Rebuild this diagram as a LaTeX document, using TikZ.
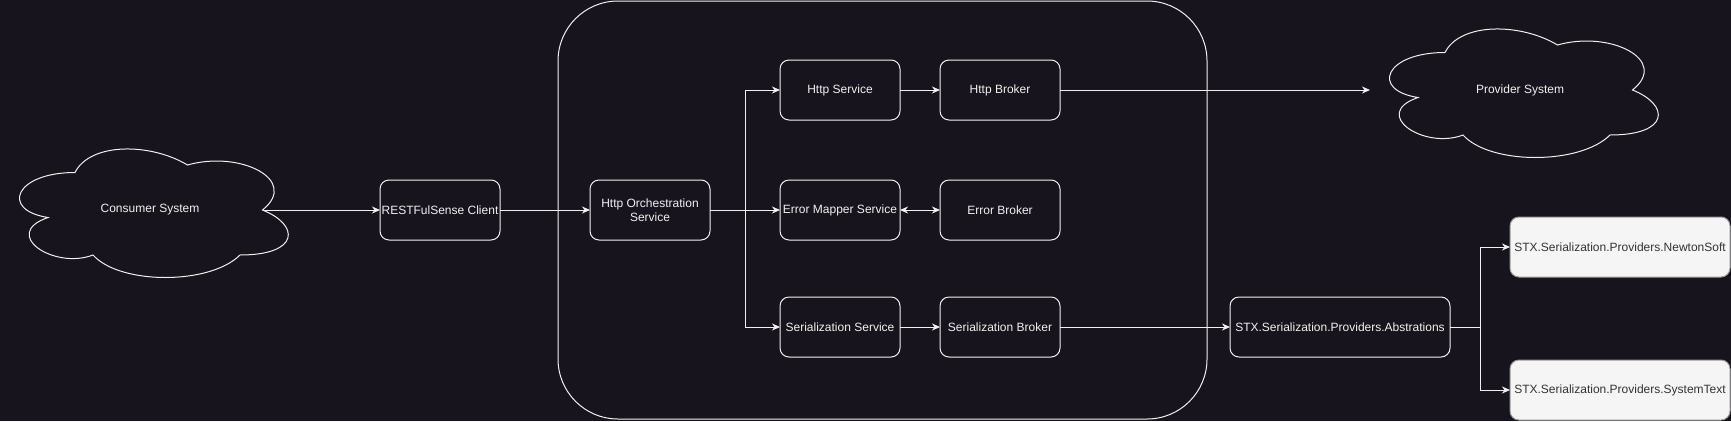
\documentclass[tikz,border=0pt]{standalone}
\usepackage{fontspec}
\setmainfont{Liberation Sans}
\usetikzlibrary{arrows.meta}
\definecolor{bgc}{HTML}{18141D}
\definecolor{fgc}{HTML}{F0F0F0}
\definecolor{lightfill}{HTML}{F5F5F5}
\definecolor{lightstroke}{HTML}{9A9A9A}
\definecolor{darktext}{HTML}{333333}
\tikzset{
  box/.style={draw=fgc, line width=1pt, rounded corners=9pt, minimum width=120pt, minimum height=60pt,
    inner sep=0pt, outer sep=0pt, text=fgc, align=center, font=\fontsize{12}{14}\selectfont},
  lightbox/.style={draw=lightstroke, fill=lightfill, line width=1pt, rounded corners=9pt, minimum width=220pt,
    minimum height=60pt, inner sep=0pt, outer sep=0pt, text=darktext, font=\fontsize{12}{14}\selectfont},
  lbl/.style={text=fgc, font=\fontsize{12}{14}\selectfont},
  conn/.style={draw=fgc, line width=1pt},
  arr/.style={conn, -{Stealth[length=8pt,width=7pt,inset=2.5pt]}},
  darr/.style={conn, {Stealth[length=8pt,width=7pt,inset=2.5pt]}-{Stealth[length=8pt,width=7pt,inset=2.5pt]}},
  cloudline/.style={draw=fgc, line width=1pt}
}
\newcommand{\mycloudpath}{(0.25,0.25) .. controls (0.05,0.25) and (0,0.5) .. (0.16,0.55)
  .. controls (0,0.66) and (0.18,0.9) .. (0.31,0.8)
  .. controls (0.4,1) and (0.7,1) .. (0.8,0.8)
  .. controls (1,0.8) and (1,0.6) .. (0.875,0.5)
  .. controls (1,0.3) and (0.8,0.1) .. (0.625,0.2)
  .. controls (0.5,0.05) and (0.3,0.05) .. (0.25,0.25) -- cycle}
\begin{document}
\begin{tikzpicture}[x=1pt,y=-1pt]
\fill[bgc] (0,0) rectangle (1731,421);
\useasboundingbox (0,0) rectangle (1731,421);

% container
\node[draw=fgc, line width=1pt, rounded corners=60pt, minimum width=649pt, minimum height=418pt, inner sep=0pt, outer sep=0pt] (container) at (882.5,210) {};

% clouds
\begin{scope}[shift={(0pt,-135pt)}, x=300pt, y=-150pt]
  \path[cloudline] \mycloudpath;
\end{scope}
\begin{scope}[shift={(1370pt,-15pt)}, x=300pt, y=-150pt]
  \path[cloudline] \mycloudpath;
\end{scope}
\node[lbl] (consumer) at (150,210) {Consumer System};
\node[lbl] (provider) at (1520,90) {Provider System};
\coordinate (cnotch) at (262.5,210);
\coordinate (pleft) at (1370,90);

% boxes
\node[box] (client) at (440,210) {RESTFulSense Client};
\node[box] (orch) at (650,210) {Http Orchestration\\Service};
\node[box] (httpsvc) at (840,90) {Http Service};
\node[box] (httpbroker) at (1000,90) {Http Broker};
\node[box] (errsvc) at (840,210) {Error Mapper Service};
\node[box] (errbroker) at (1000,210) {Error Broker};
\node[box] (sersvc) at (840,327) {Serialization Service};
\node[box] (serbroker) at (1000,327) {Serialization Broker};
\node[box, minimum width=220pt] (abstr) at (1340,327) {STX.Serialization.Providers.Abstrations};
\node[lightbox] (newton) at (1620,247) {STX.Serialization.Providers.NewtonSoft};
\node[lightbox] (systext) at (1620,390) {STX.Serialization.Providers.SystemText};

\coordinate (branch) at (745,210);
\coordinate (branch2) at (1480,327);

% connectors
\draw[arr] (cnotch) -- (client.west);
\draw[arr] (client.east) -- (orch.west);
\draw[arr] (orch.east) -- (errsvc.west);
\draw[arr] (branch) |- (httpsvc.west);
\draw[arr] (branch) |- (sersvc.west);
\draw[arr] (httpsvc.east) -- (httpbroker.west);
\draw[darr] (errsvc.east) -- (errbroker.west);
\draw[arr] (sersvc.east) -- (serbroker.west);
\draw[arr] (httpbroker.east) -- (pleft);
\draw[arr] (serbroker.east) -- (abstr.west);
\draw[conn] (abstr.east) -- (branch2);
\draw[arr] (branch2) |- (newton.west);
\draw[arr] (branch2) |- (systext.west);
\end{tikzpicture}
\end{document}
